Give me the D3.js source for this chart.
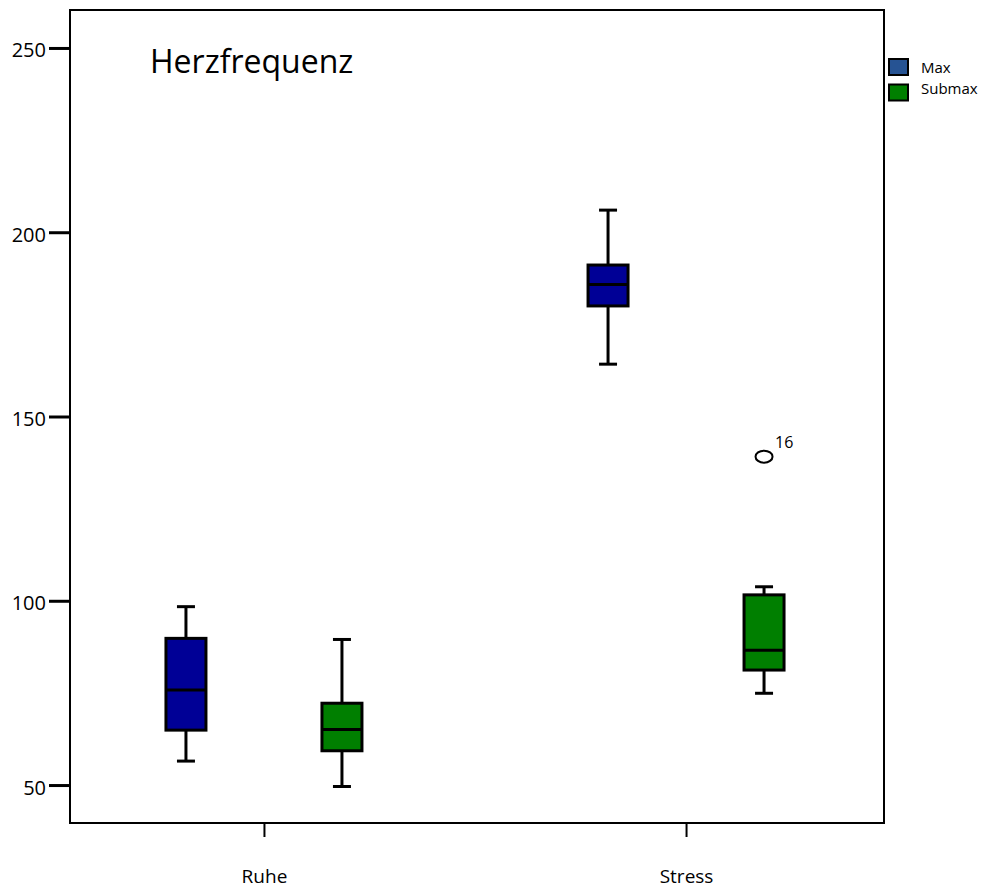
<!DOCTYPE html>
<html>
<head>
<meta charset="utf-8">
<script src="https://cdn.jsdelivr.net/npm/d3@7"></script>
<style>
  html, body { margin: 0; padding: 0; background: #fff; }
  svg { display: block; }
  text { font-family: "Open Sans", Lato, sans-serif; fill: #000; }
</style>
</head>
<body>
<svg id="chart" width="993" height="888"></svg>
<script>
// Heart rate (Herzfrequenz) by condition and exercise group
const categories = ["Ruhe", "Stress"];
const groups = ["Max", "Submax"];
const groupColors = { Max: "#000096", Submax: "#007f00" };
const legendColors = { Max: "#265393", Submax: "#007f00" };
const yTicks = [50, 100, 150, 200, 250];

// five-number summaries per category/group: [lowWhisker, q1, median, q3, highWhisker]
const ruheMax    = [56.5, 64.9, 75.8, 89.8, 98.4];
const ruheSubmax = [49.6, 59.3, 65.1, 72.2, 89.5];
const stressMax    = [164.2, 180.0, 185.8, 191.1, 206.0];
const stressSubmax = [74.9, 81.2, 86.6, 101.6, 103.8];

// outliers: [category, group, value, case label]
const outliers = [["Stress", "Submax", 139.1, "16"]];

const boxes = [
  { cat: "Ruhe", grp: "Max", s: ruheMax },
  { cat: "Ruhe", grp: "Submax", s: ruheSubmax },
  { cat: "Stress", grp: "Max", s: stressMax },
  { cat: "Stress", grp: "Submax", s: stressSubmax }
];

const svg = d3.select("#chart");
const plot = { left: 70, top: 10, right: 884, bottom: 823 };

const x = d3.scalePoint().domain(categories).range([66, plot.right]).padding(0.469);
const xg = d3.scalePoint().domain(groups).range([-78, 78]);
const y = d3.scaleLinear().domain([39.7, 260.3]).range([plot.bottom, plot.top]);

// frame
svg.append("rect")
  .attr("x", plot.left).attr("y", plot.top)
  .attr("width", plot.right - plot.left).attr("height", plot.bottom - plot.top)
  .attr("fill", "none").attr("stroke", "#000").attr("stroke-width", 2);

// y axis
const yAxis = d3.axisLeft(y).tickValues(yTicks).tickSize(21).tickPadding(3).tickFormat(d3.format("d"));
const yg = svg.append("g").attr("transform", `translate(${plot.left},0)`).call(yAxis);
yg.select(".domain").remove();
yg.selectAll(".tick line").attr("stroke", "#000").attr("stroke-width", 3);
yg.selectAll(".tick text").attr("font-size", 20).attr("font-family", "'Open Sans', sans-serif").attr("dy", "0.45em");

// x axis
const xAxis = d3.axisBottom(x).tickSize(14).tickPadding(33);
const xgAxis = svg.append("g").attr("transform", `translate(0,${plot.bottom})`).call(xAxis);
xgAxis.select(".domain").remove();
xgAxis.selectAll(".tick line").attr("stroke", "#000").attr("stroke-width", 2);
xgAxis.selectAll(".tick text").attr("font-size", 19).attr("font-family", "'Open Sans', sans-serif");

// title
svg.append("text").attr("x", 150).attr("y", 73).attr("font-size", 32).text("Herzfrequenz");

// boxplots
const boxW = 40, capW = 18;
const bg = svg.append("g");
boxes.forEach(b => {
  const cx = x(b.cat) + xg(b.grp);
  const [lo, q1, med, q3, hi] = b.s;
  const g = bg.append("g");
  g.append("line").attr("x1", cx).attr("x2", cx).attr("y1", y(hi)).attr("y2", y(q3))
    .attr("stroke", "#000").attr("stroke-width", 3);
  g.append("line").attr("x1", cx).attr("x2", cx).attr("y1", y(q1)).attr("y2", y(lo))
    .attr("stroke", "#000").attr("stroke-width", 3);
  [hi, lo].forEach(v => {
    g.append("line").attr("x1", cx - capW / 2).attr("x2", cx + capW / 2)
      .attr("y1", y(v)).attr("y2", y(v)).attr("stroke", "#000").attr("stroke-width", 3);
  });
  g.append("rect").attr("x", cx - boxW / 2).attr("y", y(q3))
    .attr("width", boxW).attr("height", y(q1) - y(q3))
    .attr("fill", groupColors[b.grp]).attr("stroke", "#000").attr("stroke-width", 3);
  g.append("line").attr("x1", cx - boxW / 2).attr("x2", cx + boxW / 2)
    .attr("y1", y(med)).attr("y2", y(med)).attr("stroke", "#000").attr("stroke-width", 3);
});

// outliers
outliers.forEach(([cat, grp, v, lab]) => {
  const cx = x(cat) + xg(grp);
  svg.append("ellipse").attr("cx", cx).attr("cy", y(v)).attr("rx", 8.5).attr("ry", 6)
    .attr("fill", "none").attr("stroke", "#000").attr("stroke-width", 2);
  svg.append("text").attr("x", cx + 11).attr("y", y(v) - 9).attr("font-size", 16).text(lab);
});

// legend
const lg = svg.append("g").attr("transform", "translate(889,59)");
groups.forEach((grp, i) => {
  lg.append("rect").attr("x", 0).attr("y", i * 25.5).attr("width", 19).attr("height", 16)
    .attr("fill", legendColors[grp]).attr("stroke", "#000").attr("stroke-width", 2);
  lg.append("text").attr("x", 32).attr("y", 14 + i * 21).attr("font-size", 15).text(grp);
});
</script>
</body>
</html>
